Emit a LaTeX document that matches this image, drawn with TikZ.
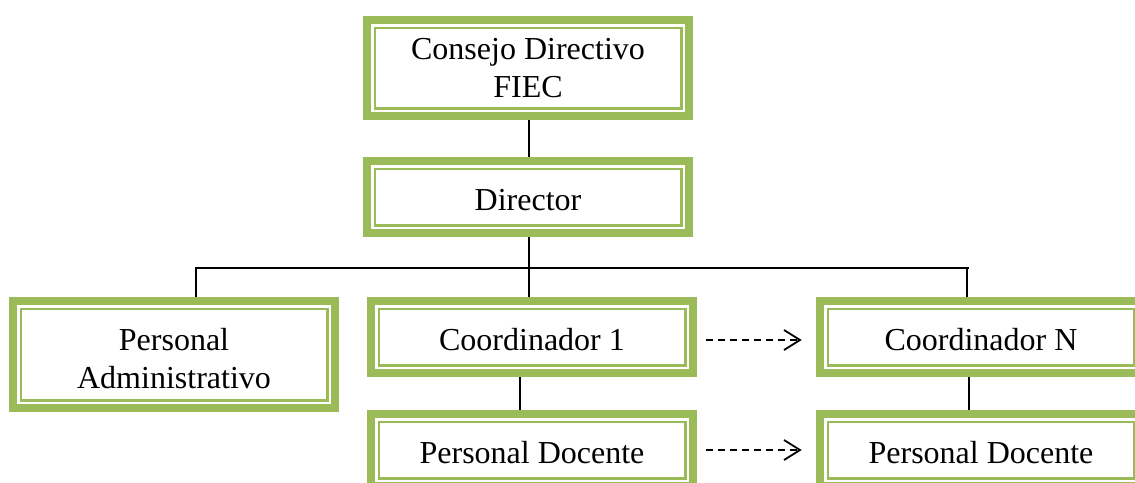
\documentclass[tikz,border=0pt]{standalone}
\usepackage{fontspec}
\setmainfont{Liberation Serif}
\usetikzlibrary{calc}
\definecolor{boxgreen}{HTML}{9BBB59}
\newcommand{\upstrut}[1]{\rule{0pt}{#1}}
\tikzset{
  orgbox/.style={draw=boxgreen, line width=2.5pt, fill=white,
    preaction={draw=boxgreen, line width=23.5pt},
    preaction={draw=white, line width=7.5pt},
    minimum width=306.5pt, minimum height=56.5pt, inner sep=0pt,
    outer sep=11.75pt, align=center,
    font=\fontsize{32}{38}\selectfont},
  conn/.style={draw=black, line width=1.5pt},
  dashline/.style={draw=black, line width=1.8pt, dash pattern=on 7pt off 5pt},
  barb/.style={draw=black, line width=1.8pt, line join=miter}
}
\begin{document}
\begin{tikzpicture}[x=1pt,y=-1pt]
\useasboundingbox (0,0) rectangle (1135,482);
\clip (0,0) rectangle (1135,482);
\node[orgbox, minimum height=80.5pt] (cd) at (528,68) {Consejo Directivo\\FIEC};
\node[orgbox] (dir) at (528,197) {\upstrut{28pt}Director};
\node[orgbox, minimum height=91.5pt] (pa) at (174,354.5) {\upstrut{30pt}Personal\\Administrativo};
\node[orgbox] (c1) at (532,337) {\upstrut{28pt}Coordinador 1};
\node[orgbox] (cn) at (981,337) {\upstrut{28pt}Coordinador N};
\node[orgbox] (pd1) at (532,450) {\upstrut{28pt}Personal Docente};
\node[orgbox] (pdn) at (981,450) {\upstrut{28pt}Personal Docente};
\coordinate (ja) at (196,268);
\coordinate (jc) at (529,268);
\coordinate (jn) at (967,268);
\draw[conn] (cd.south -| jc) -- (dir.north -| jc);
\draw[conn] (dir.south -| jc) -- (c1.north -| jc);
\draw[conn] (ja |- pa.north) -- (ja) -- ($(jn)+(2,0)$);
\draw[conn] (jn) -- (jn |- cn.north);
\draw[conn] ($(c1.south)+(-12,0)$) -- ($(pd1.north)+(-12,0)$);
\draw[conn] ($(cn.south)+(-12,0)$) -- ($(pdn.north)+(-12,0)$);
% dashed arrows
\coordinate (a1s) at ($(c1.east)+(9,3)$);
\coordinate (a1e) at ($(cn.west)+(-16,3)$);
\coordinate (a2s) at ($(pd1.east)+(9,0)$);
\coordinate (a2e) at ($(pdn.west)+(-16,0)$);
\draw[dashline] (a1s) -- ($(a1e)+(-3,0)$);
\draw[barb] ($(a1e)+(-16,-10)$) -- (a1e) -- ($(a1e)+(-16,10)$);
\draw[dashline] (a2s) -- ($(a2e)+(-3,0)$);
\draw[barb] ($(a2e)+(-16,-10)$) -- (a2e) -- ($(a2e)+(-16,10)$);
\end{tikzpicture}
\end{document}
